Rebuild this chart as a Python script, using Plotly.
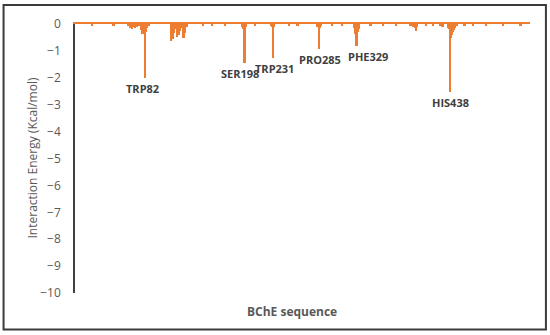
import plotly.graph_objects as go

# Residue numbers and interaction energies (kcal/mol)
residues = [20, 45, 62, 65, 67, 68, 70, 72, 75, 77, 79, 81, 82, 83, 84, 86,
            112, 114, 115, 116, 117, 119, 120, 122, 123, 124, 127, 128, 129, 131,
            150, 160, 175, 195, 196, 197, 198, 199, 200, 210,
            229, 230, 231, 232, 250, 260, 283, 284, 285, 286, 287,
            300, 312, 326, 327, 328, 329, 330, 331, 332, 345, 360, 375,
            392, 395, 397, 398, 399, 410, 418, 427, 429, 430,
            436, 437, 438, 439, 440, 441, 442, 443, 444, 446,
            455, 465, 480, 500, 520]
energies = [-0.04, -0.05, -0.08, -0.15, -0.18, -0.12, -0.16, -0.10, -0.08, -0.22, -0.37, -0.25, -2.02, -0.30, -0.15, -0.08,
            -0.65, -0.30, -0.55, -0.35, -0.20, -0.48, -0.30, -0.42, -0.25, -0.15, -0.52, -0.30, -0.35, -0.10,
            -0.06, -0.05, -0.04, -0.10, -0.18, -0.20, -1.45, -0.25, -0.10, -0.05,
            -0.08, -0.12, -1.27, -0.10, -0.06, -0.05, -0.10, -0.12, -0.92, -0.15, -0.08,
            -0.04, -0.06, -0.15, -0.37, -0.25, -0.83, -0.30, -0.20, -0.10, -0.05, -0.06, -0.05,
            -0.08, -0.10, -0.15, -0.25, -0.12, -0.06, -0.05, -0.08, -0.10, -0.06,
            -0.15, -0.18, -2.53, -0.52, -0.40, -0.30, -0.22, -0.15, -0.10, -0.08,
            -0.05, -0.04, -0.05, -0.04, -0.05]

label_residues = [82, 198, 231, 285, 329, 438]
label_texts = ["TRP82", "SER198", "TRP231", "PRO285", "PHE329", "HIS438"]
label_xshift = [-3, -5, 2, 1, 11, 0]

y_ticks = [0, -1, -2, -3, -4, -5, -6, -7, -8, -9, -10]

ORANGE = "#ED7D31"
FONT = "Open Sans"

fig = go.Figure()
fig.add_trace(go.Bar(x=residues, y=energies, width=2.2,
                     marker=dict(color=ORANGE, line=dict(width=0)),
                     showlegend=False, hoverinfo="skip"))

energy_of = dict(zip(residues, energies))
annotations = []
for r, t, dx in zip(label_residues, label_texts, label_xshift):
    annotations.append(dict(x=r, y=energy_of[r], xref="x", yref="y", text=t,
                            showarrow=False, yanchor="top", xanchor="center",
                            yshift=-1, xshift=dx,
                            font=dict(family=FONT, size=11, color="#404040", weight="bold")))

annotations.append(dict(x=-0.0945, y=0.5, xref="paper", yref="paper",
                        text="Interaction Energy (Kcal/mol)", textangle=-90,
                        showarrow=False, xanchor="center", yanchor="middle",
                        font=dict(family=FONT, size=12, color="#595959")))
annotations.append(dict(x=0.477, y=-0.067, xref="paper", yref="paper",
                        text="BChE sequence", showarrow=False,
                        xanchor="center", yanchor="middle",
                        font=dict(family=FONT, size=12, color="#595959", weight="bold")))

fig.update_layout(
    width=550, height=335,
    margin=dict(l=75, r=20, t=24, b=42, autoexpand=False),
    paper_bgcolor="white", plot_bgcolor="white",
    bargap=0,
    annotations=annotations,
    shapes=[dict(type="rect", xref="paper", yref="paper",
                 x0=-0.157, x1=1.035, y0=-0.1357, y1=1.0706,
                 line=dict(color="#3a3a3a", width=2))],
    xaxis=dict(range=[0, 531], side="top", showline=True, linecolor=ORANGE,
               linewidth=2, showticklabels=False, ticks="", showgrid=False,
               zeroline=False, automargin=False),
    yaxis=dict(range=[-10, 0], tickvals=y_ticks, showline=True,
               linecolor="#404040", linewidth=1.5, showgrid=False,
               zeroline=False, ticks="", ticklabelstandoff=10, automargin=False,
               tickfont=dict(family=FONT, size=12, color="#595959")),
)

fig.write_html("out.html", post_script="document.body.style.margin='0';",
               config={"displayModeBar": False})
